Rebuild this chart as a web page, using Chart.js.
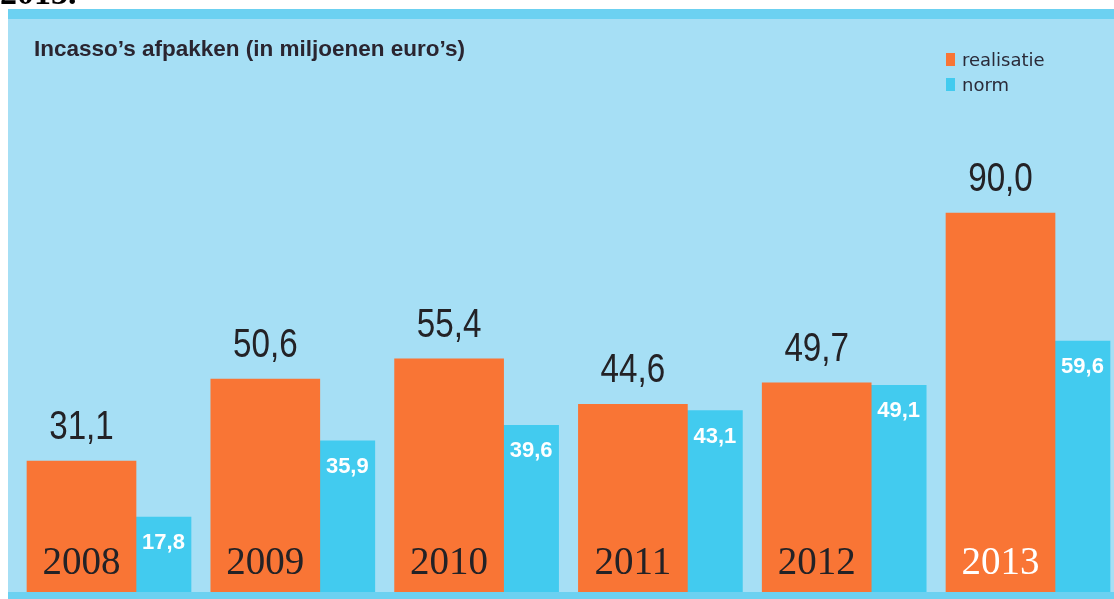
<!DOCTYPE html>
<html>
<head>
<meta charset="utf-8">
<script src="https://cdn.jsdelivr.net/npm/chart.js@4/dist/chart.umd.min.js"></script>
<style>
  html, body { margin: 0; padding: 0; background: #ffffff; width: 1114px; height: 599px; overflow: hidden; }
  #wrap { position: relative; width: 1114px; height: 599px; }
  #c { position: absolute; left: 0; top: 0; }
  #pagetext { position: absolute; left: 0; top: -24px; font-family: "Liberation Serif", serif; font-weight: bold; font-size: 34px; line-height: 34px; color: #000; z-index: 2; }
</style>
</head>
<body>
<div id="wrap">
  <canvas id="c" width="1114" height="599"></canvas>
  <div id="pagetext">2013.</div>
</div>
<script>
const years = ['2008', '2009', '2010', '2011', '2012', '2013'];
const realisatie = [31.1, 50.6, 55.4, 44.6, 49.7, 90.0];
const norm = [17.8, 35.9, 39.6, 43.1, 49.1, 59.6];
const chartTitle = 'Incasso\u2019s afpakken (in miljoenen euro\u2019s)';
const seriesNames = ['realisatie', 'norm'];

const ORANGE = '#f97535';
const BLUE = '#42cbef';
const PANEL = '#a6dff5';
const STRIPE = '#6cd1f1';
const DARK = '#232226';

function fmt(v) { return v.toFixed(1).replace('.', ','); }

function condensedText(ctx, text, x, y, sx) {
  ctx.save();
  ctx.translate(x, y);
  ctx.scale(sx, 1);
  ctx.fillText(text, 0, 0);
  ctx.restore();
}

const panelPlugin = {
  id: 'panel',
  beforeDraw(chart) {
    const ctx = chart.ctx;
    ctx.save();
    ctx.fillStyle = PANEL;
    ctx.fillRect(8, 9, chart.width - 8, chart.height - 9);
    ctx.fillStyle = STRIPE;
    ctx.fillRect(8, 9, chart.width - 8, 10);
    ctx.restore();
  },
  afterDatasetsDraw(chart) {
    const ctx = chart.ctx;
    ctx.save();
    // bottom stripe
    ctx.fillStyle = STRIPE;
    ctx.fillRect(8, 592, chart.width - 8, chart.height - 592);

    const m0 = chart.getDatasetMeta(0);
    const m1 = chart.getDatasetMeta(1);
    ctx.textAlign = 'center';
    ctx.textBaseline = 'alphabetic';
    // orange values above bars
    ctx.font = '40px "Liberation Sans", sans-serif';
    ctx.fillStyle = DARK;
    m0.data.forEach((el, i) => {
      condensedText(ctx, fmt(chart.data.datasets[0].data[i]), el.x, el.y - 22, 0.83);
    });
    // year labels inside orange bars
    ctx.font = '39px "Liberation Serif", serif';
    m0.data.forEach((el, i) => {
      ctx.fillStyle = (i === years.length - 1) ? '#ffffff' : DARK;
      ctx.fillText(chart.data.labels[i], el.x, 574);
    });
    // blue values inside bars
    ctx.font = 'bold 22px "Liberation Sans", sans-serif';
    ctx.fillStyle = '#ffffff';
    m1.data.forEach((el, i) => {
      ctx.fillText(fmt(chart.data.datasets[1].data[i]), el.x, el.y + 32);
    });
    // title
    ctx.textAlign = 'left';
    ctx.font = 'bold 22.5px "Liberation Sans", sans-serif';
    ctx.fillStyle = '#2a2530';
    ctx.fillText(chartTitle, 34, 56);
    // legend
    ctx.font = '18px "DejaVu Sans", sans-serif';
    chart.data.datasets.forEach((ds, i) => {
      const y = 53 + i * 25;
      ctx.fillStyle = ds.backgroundColor;
      ctx.fillRect(946, y, 9, 13);
      ctx.fillStyle = '#2a2a38';
      ctx.fillText(ds.label, 962, y + 13);
    });
    ctx.restore();
  }
};

new Chart(document.getElementById('c'), {
  type: 'bar',
  data: {
    labels: years,
    datasets: [
      { label: seriesNames[0], data: realisatie, backgroundColor: ORANGE, barThickness: 109, borderWidth: 0, clip: false },
      { label: seriesNames[1], data: norm, backgroundColor: BLUE, barThickness: 55, borderWidth: 0, clip: false }
    ]
  },
  options: {
    responsive: false,
    animation: false,
    devicePixelRatio: 1,
    layout: { padding: { left: 136, right: 59, top: 171, bottom: 7 } },
    plugins: { legend: { display: false }, title: { display: false }, tooltip: { enabled: false } },
    scales: {
      x: { type: 'category', offset: false, display: false, grid: { display: false } },
      y: { min: 0, max: 100, display: false, grid: { display: false } }
    }
  },
  plugins: [panelPlugin]
});
</script>
</body>
</html>
